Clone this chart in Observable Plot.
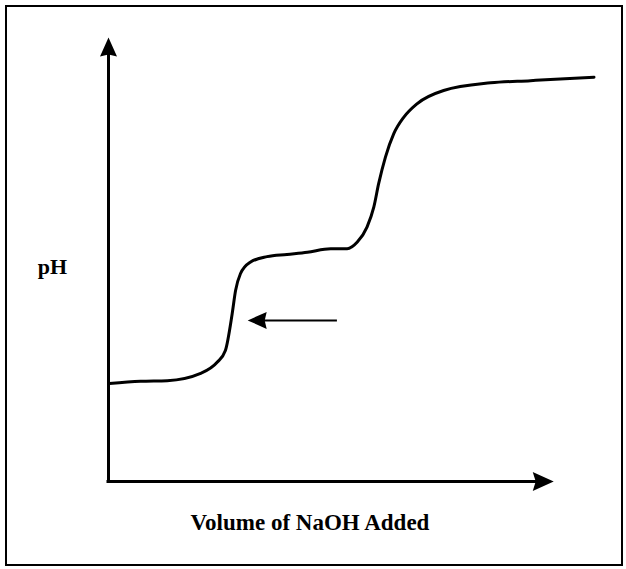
<!DOCTYPE html>
<html>
<head>
<meta charset="utf-8">
<script src="https://cdn.jsdelivr.net/npm/d3@7"></script>
<script src="https://cdn.jsdelivr.net/npm/@observablehq/plot@0.6"></script>
<style>
  html, body { margin: 0; padding: 0; background: #fff; }
  #wrap { position: relative; width: 626px; height: 569px; overflow: hidden; background: #fff; }
  #border { position: absolute; left: 5px; top: 5px; width: 618px; height: 561px; box-sizing: border-box; border: 2px solid #000; pointer-events: none; }
  #wrap svg { display: block; }
</style>
</head>
<body>
<div id="wrap"><div id="border"></div></div>
<script>
// Titration curve (schematic): volume of NaOH added (arbitrary units) vs pH
const volume = [0.2, 6.6, 12.1, 19.0, 22.4, 24.1, 25.5, 26.2, 27.2, 29.3, 32.7, 36.8, 41.0, 45.8, 49.2, 51.3, 53.3, 54.7, 55.7, 57.1, 58.8, 60.9, 63.6, 69.1, 78.8, 87.0, 100.1];
const ph     = [3.09, 3.16, 3.18, 3.41, 3.76, 4.13, 5.29, 6.02, 6.55, 6.92, 7.09, 7.16, 7.23, 7.34, 7.34, 7.55, 8.02, 8.65, 9.39, 10.23, 10.96, 11.49, 11.91, 12.33, 12.57, 12.64, 12.75];

// Axis extents (arrow tips) in data units
const xAxisEnd = [91.8];
const yAxisEnd = [14];

// Annotation arrow (pointing at the first equivalence region)
const arrowTail = [47.2];
const arrowTip = [28.7];
const arrowPH = [5.08];

// Labels
const xLabel = ["Volume of NaOH Added"];
const yLabel = ["pH"];

const curve = volume.map((v, i) => ({volume: v, ph: ph[i]}));

const headUp = { draw(ctx) { ctx.moveTo(0, 0); ctx.lineTo(8.5, 19); ctx.lineTo(0, 17); ctx.lineTo(-8.5, 19); ctx.closePath(); } };
const headRight = { draw(ctx) { ctx.moveTo(0, 0); ctx.lineTo(-21, -9.5); ctx.lineTo(-18, 0); ctx.lineTo(-21, 9.5); ctx.closePath(); } };
const headLeft = { draw(ctx) { ctx.moveTo(0, 0); ctx.lineTo(19, -8.5); ctx.lineTo(17, 0); ctx.lineTo(19, 8.5); ctx.closePath(); } };

const font = "'Liberation Serif', 'Times New Roman', serif";

const chart = Plot.plot({
  width: 626,
  height: 569,
  marginLeft: 108,
  marginRight: 33,
  marginTop: 37,
  marginBottom: 88,
  x: { domain: [0, 100], axis: null },
  y: { domain: [0, 14], axis: null },
  style: { background: "#fff", overflow: "visible" },
  marks: [
    // axes
    Plot.ruleX([0], { y1: yAxisEnd, y2: [0], stroke: "#000", strokeWidth: 3, insetTop: 10, strokeLinecap: "square" }),
    Plot.ruleY([0], { x1: [0], x2: xAxisEnd, stroke: "#000", strokeWidth: 3, insetRight: 10, strokeLinecap: "square" }),
    Plot.dot(yAxisEnd, { x: [0], y: d => d, symbol: headUp, fill: "#000", stroke: "none" }),
    Plot.dot(xAxisEnd, { x: d => d, y: [0], symbol: headRight, fill: "#000", stroke: "none" }),
    // titration curve
    Plot.line(curve, { x: "volume", y: "ph", curve: "monotone-x", stroke: "#000", strokeWidth: 3, strokeLinecap: "round", strokeLinejoin: "round" }),
    // annotation arrow
    Plot.ruleY(arrowPH, { x1: arrowTip, x2: arrowTail, stroke: "#000", strokeWidth: 2, insetLeft: 10 }),
    Plot.dot(arrowPH, { x: arrowTip, y: d => d, symbol: headLeft, fill: "#000", stroke: "none" }),
    // labels
    Plot.text(yLabel, { text: d => d, frameAnchor: "left", textAnchor: "middle", lineAnchor: "bottom", dx: -56, dy: 14, fontFamily: font, fontWeight: "bold", fontSize: 22, fill: "#000" }),
    Plot.text(xLabel, { text: d => d, frameAnchor: "bottom", textAnchor: "middle", lineAnchor: "bottom", dx: -41, dy: 48, fontFamily: font, fontWeight: "bold", fontSize: 23, fill: "#000", letterSpacing: "0.3px" })
  ]
});
document.getElementById("wrap").insertBefore(chart, document.getElementById("border"));
</script>
</body>
</html>
